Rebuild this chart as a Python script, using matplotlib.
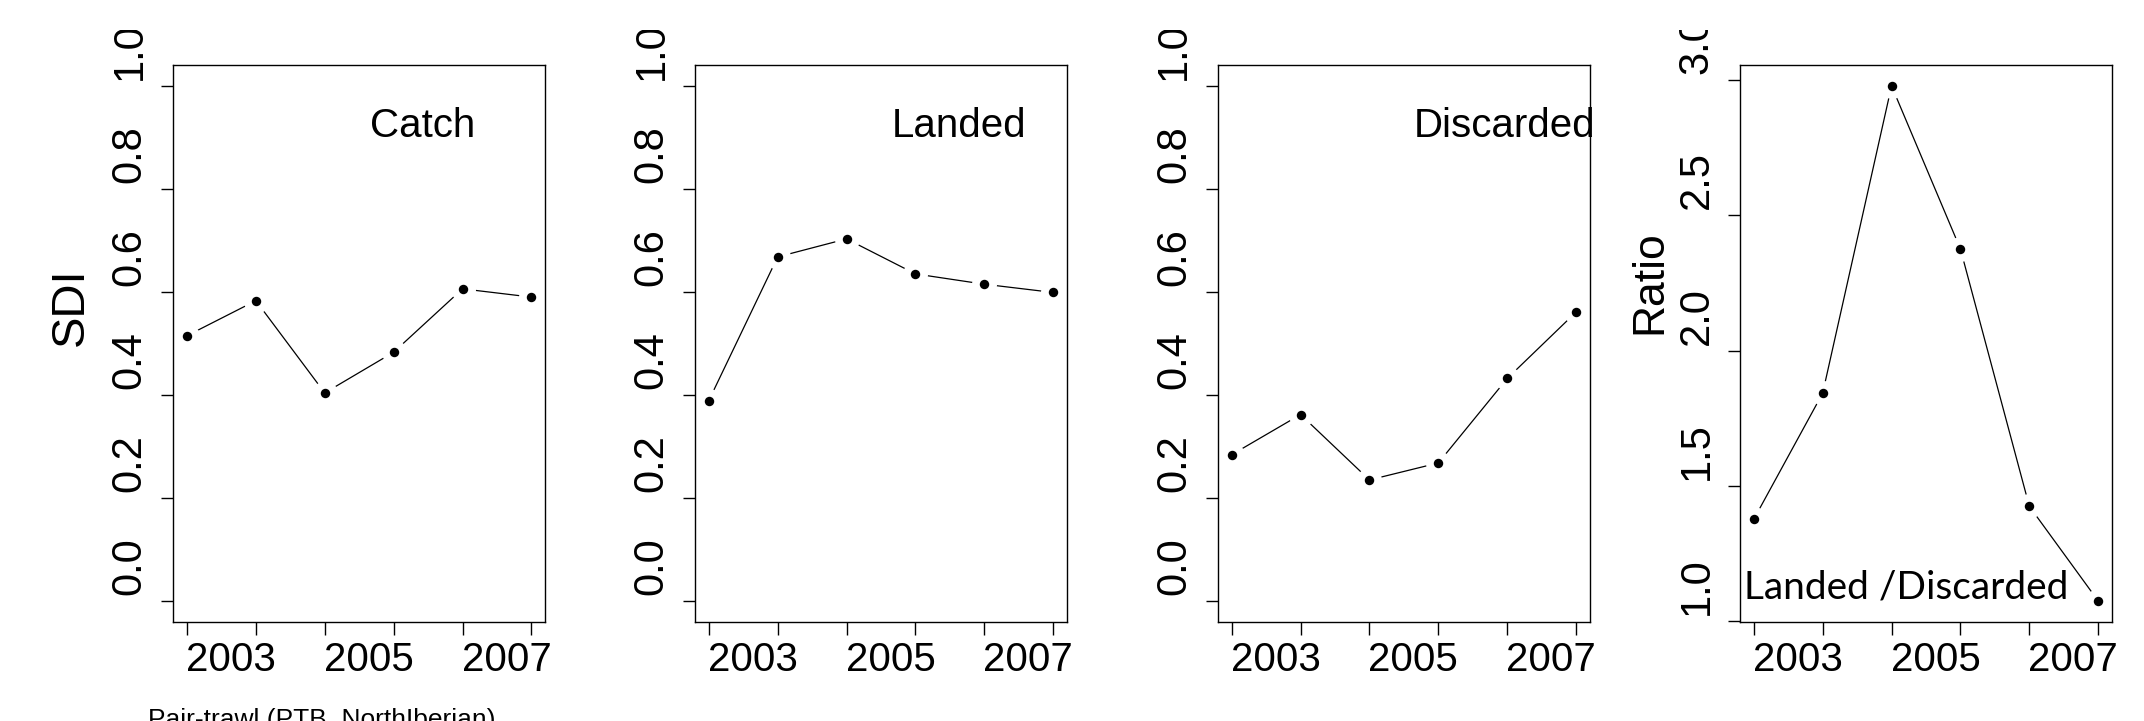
#!/usr/bin/env python3
import matplotlib
matplotlib.use('Agg')
import matplotlib.pyplot as plt
from matplotlib.patches import Rectangle
from matplotlib.transforms import ScaledTranslation

# values
years = [2002, 2003, 2004, 2005, 2006, 2007]
sdi_catch = [0.515, 0.583, 0.404, 0.483, 0.606, 0.590]
sdi_landed = [0.389, 0.668, 0.703, 0.635, 0.615, 0.599]
sdi_discarded = [0.284, 0.362, 0.235, 0.268, 0.432, 0.561]
ratio_ld = [1.377, 1.843, 2.979, 2.376, 1.425, 1.075]

year_labels = ['', '2003', '', '2005', '', '2007']
sdi_ticks = [0.0, 0.2, 0.4, 0.6, 0.8, 1.0]
ratio_ticks = [1.0, 1.5, 2.0, 2.5, 3.0]
panel_names = ['Catch', 'Landed', 'Discarded']

W, H = 2144, 721
DPI = 100
FONT = 'Liberation Sans'
plt.rcParams['font.family'] = [FONT, 'DejaVu Sans']


def px_shift(fig, dx, dy):
    return ScaledTranslation(dx / DPI, dy / DPI, fig.dpi_scale_trans)


def style_axes(fig, ax, yticks):
    for sp in ax.spines.values():
        sp.set_linewidth(1.0)
    ax.set_xticks(years)
    ax.set_xticklabels(year_labels)
    ax.set_yticks(yticks)
    ax.set_yticklabels(['{:.1f}'.format(t) for t in yticks])
    ax.tick_params(axis='both', direction='out', length=9, width=1.0)
    ax.tick_params(axis='x', pad=5, labelsize=29)
    ax.tick_params(axis='y', pad=8, labelsize=30)
    for lab in ax.get_xticklabels():
        lab.set_transform(lab.get_transform() + px_shift(fig, -25, 0))
    for lab in ax.get_yticklabels():
        lab.set_rotation(90)
        lab.set_va('center')
        lab.set_ha('right')
        lab.set_transform(lab.get_transform() + px_shift(fig, 0, 35))


def draw_series(ax, values):
    # R style type="b": points with a gap in the connecting line
    ax.plot(years, values, color='black', lw=0.9, zorder=2)
    ax.plot(years, values, 'o', ms=18, mfc='white', mec='none', zorder=2.1)
    ax.plot(years, values, 'o', ms=6.8, mfc='black', mec='none', zorder=2.2)


def main():
    fig = plt.figure(figsize=(W / DPI, H / DPI), dpi=DPI)
    lefts = [173.2, 695.0, 1217.9, 1740.0]
    width = 372.0
    top, bottom = 65.3, 621.6
    axes = []
    for left in lefts:
        ax = fig.add_axes([left / W, 1 - bottom / H, width / W,
                           (bottom - top) / H])
        axes.append(ax)

    series = [sdi_catch, sdi_landed, sdi_discarded]
    for ax, vals, name in zip(axes[:3], series, panel_names):
        draw_series(ax, vals)
        ax.set_xlim(2001.8, 2007.2)
        ax.set_ylim(-0.04, 1.04)
        style_axes(fig, ax, sdi_ticks)
        ax.text(2004.65, 0.9, name, fontsize=29, ha='left', va='baseline',
                zorder=3, clip_on=False)

    axes[0].set_ylabel('SDI', fontsize=34)
    axes[0].yaxis.set_label_coords(-0.216, 0.5655)

    ax = axes[3]
    draw_series(ax, ratio_ld)
    ax.set_xlim(2001.8, 2007.2)
    ax.margins(y=0.04)
    style_axes(fig, ax, ratio_ticks)
    ax.text(2001.86, 1.084, 'Landed /Discarded', fontsize=28,
            family=['Lato', 'DejaVu Sans'], ha='left', va='baseline',
            zorder=3)
    ax.set_ylabel('Ratio', fontsize=32)
    ax.yaxis.set_label_coords(-0.186, 0.61)

    fig.text(148 / W, -6 / H, 'Pair-trawl (PTB_NorthIberian)', fontsize=19,
             ha='left', va='baseline')

    # the source image is cropped just above the top tick labels
    fig.add_artist(Rectangle((0, 1 - 30 / H), 1, 30 / H,
                             transform=fig.transFigure, facecolor='white',
                             edgecolor='none', zorder=10))

    fig.savefig('out.png', dpi=DPI)


if __name__ == '__main__':
    main()
